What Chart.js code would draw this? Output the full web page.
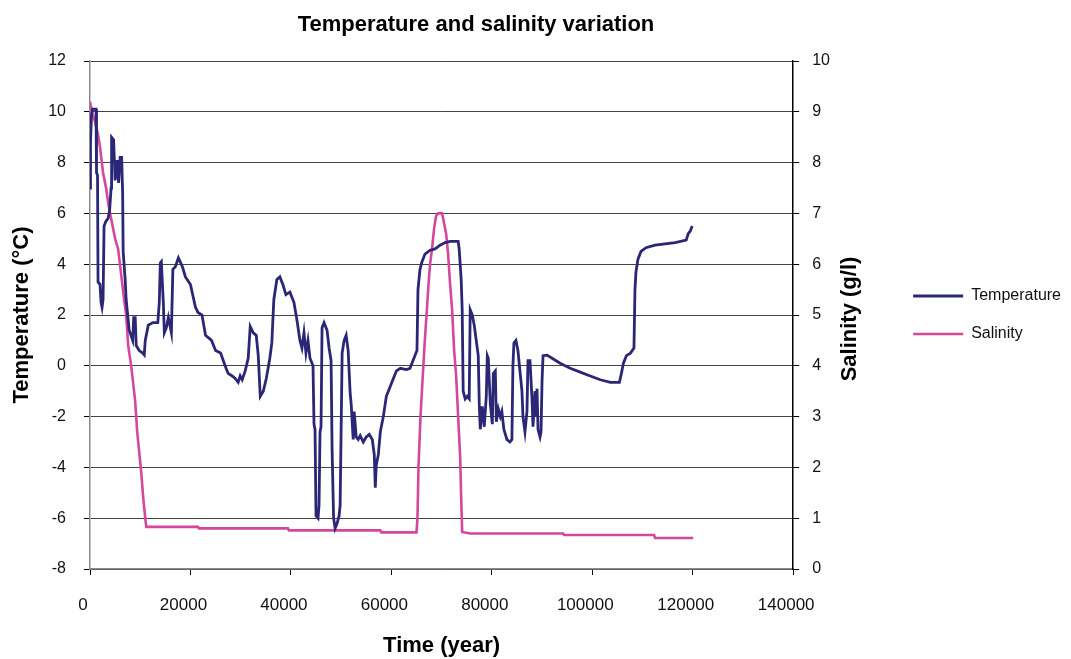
<!DOCTYPE html>
<html>
<head>
<meta charset="utf-8">
<script src="https://cdn.jsdelivr.net/npm/chart.js@4.4.1/dist/chart.umd.min.js"></script>
<style>
  body { margin: 0; background: #fff; }
</style>
</head>
<body>
<canvas id="tsChart" width="1071" height="659"></canvas>
<script>
const chartTitle = 'Temperature and salinity variation';
const xTitle = 'Time (year)';
const tempTitle = 'Temperature (°C)';
const salTitle = 'Salinity (g/l)';

// temperature trace (year, °C)
const tempYear = [
  0, 100, 300, 500, 1200, 1300, 1500, 1600, 2000, 2200, 2400, 2600, 2800, 3200, 3600, 3900,
  4200, 4300, 4700, 5000, 5400, 5700, 6000, 6300, 6500, 6600, 7000, 7200, 7500, 7800, 8500,
  8700, 9000, 9200, 9800, 10500, 10800, 11000, 11600, 12500, 13500, 13800, 14000, 14200, 14600,
  14800, 15200, 15600, 16200, 16500, 17000, 17600, 18400, 19000, 20000, 21000, 21500, 22300,
  23000, 24200, 25000, 26000, 26900, 27500, 28300, 28900, 29500, 29900, 30300, 30900, 31500,
  31900, 32500, 33100, 33500, 33900, 34500, 35100, 35800, 36200, 36600, 37200, 37800, 38400,
  39000, 39800, 40600, 41200, 41800, 42200, 42600, 43000, 43400, 43800, 44400, 44600, 44800,
  45000, 45400, 45600, 45800, 46000, 46200, 46600, 47200, 47600, 48000, 48200, 48500, 48800,
  49200, 49600, 49800, 50200, 50600, 51000, 51400, 51800, 52000, 52400, 52600, 53000, 53400,
  53800, 54400, 55000, 55600, 56200, 56600, 56800, 57000, 57400, 57800, 58400, 59000, 59600,
  60200, 61000, 61800, 63000, 63700, 64300, 64900, 65100, 65300, 65700, 66100, 66700, 67700,
  68700, 69700, 70700, 71700, 73300, 73500, 73900, 74100, 74300, 74700, 75100, 75500, 75700,
  76100, 76500, 76900, 77300, 77500, 77700, 78100, 78500, 78900, 79100, 79300, 79700, 80100,
  80300, 80700, 80900, 81300, 81700, 82000, 82400, 83000, 83600, 84000, 84200, 84400, 84800,
  85200, 85600, 86000, 86200, 86600, 87000, 87200, 87600, 88000, 88200, 88600, 88800, 89000,
  89200, 89600, 89800, 90000, 90200, 91000, 92000, 93600, 95600, 97600, 99600, 101600, 103600,
  105400, 105800, 106200, 106800, 107600, 108300, 108500, 108700, 109100, 109700, 110700,
  112500, 114500, 116500, 118700, 119100, 119500, 119900
];
const tempC = [
  7.0, 8.8, 9.9, 10.1, 10.1, 7.6, 7.5, 3.3, 3.2, 2.5, 2.3, 2.6, 5.5, 5.7, 5.8, 6.1,
  7.0, 9.0, 8.9, 7.3, 8.1, 7.2, 8.2, 8.2, 6.8, 4.5, 3.4, 2.6, 2.0, 1.4, 1.0,
  1.9, 1.9, 0.8, 0.6, 0.5, 0.43, 1.0, 1.6, 1.7, 1.7, 2.5, 4.05, 4.1, 2.5,
  1.3, 1.5, 1.9, 1.3, 3.8, 3.9, 4.25, 3.9, 3.5, 3.2, 2.3, 2.1, 2.0,
  1.2, 1.0, 0.6, 0.5, 0.0, -0.3, -0.4, -0.5, -0.65, -0.4, -0.55, -0.2, 0.3,
  1.55, 1.3, 1.2, 0.4, -1.2, -1.0, -0.5, 0.3, 0.9, 2.6, 3.4, 3.5, 3.2,
  2.8, 2.9, 2.5, 1.8, 1.0, 0.7, 1.3, 0.5, 1.0, 0.3, 0.0, -2.3, -2.5,
  -5.9, -6.0, -5.5, -2.6, -2.4, 1.5, 1.7, 1.4, 0.7, 0.2, -3.3, -6.0, -6.4,
  -6.2, -5.9, -5.5, 0.5, 1.0, 1.2, 0.6, -1.1, -1.5, -2.9, -1.8, -2.8, -2.9,
  -2.75, -3.0, -2.8, -2.7, -2.9, -3.5, -4.8, -3.9, -3.5, -2.6, -2.0, -1.2, -0.9,
  -0.6, -0.2, -0.1, -0.15, -0.1, 0.2, 0.5, 0.6, 3.0, 3.8, 4.1, 4.4, 4.55,
  4.6, 4.75, 4.85, 4.9, 4.9, 4.6, 3.4, 2.2, -1.0, -1.3, -1.2, -1.3, 2.2,
  2.0, 1.6, 1.0, 0.4, -1.5, -2.5, -1.6, -2.4, -1.2, 0.4, 0.3, -1.5, -2.3,
  -0.3, -0.2, -2.2, -1.7, -2.0, -1.8, -2.5, -2.9, -3.0, -2.9, 0.0, 0.9, 1.0,
  0.6, -0.2, -1.0, -2.0, -2.6, -1.8, 0.2, 0.2, -1.3, -2.4, -1.0, -2.0, -0.9,
  -2.5, -2.8, -2.6, -0.6, 0.4, 0.42, 0.3, 0.1, -0.1, -0.25, -0.4, -0.55, -0.65,
  -0.65, -0.3, 0.1, 0.4, 0.5, 0.7, 3.0, 3.7, 4.2, 4.5, 4.65,
  4.75, 4.8, 4.85, 4.95, 5.2, 5.3, 5.5
];

// salinity trace (year, g/l)
const salYear = [
  0, 400, 1000, 1600, 2000, 2600, 3200, 3800, 4400, 5000, 5600, 6200, 6800, 7200, 7600,
  8200, 8600, 9000, 9400, 9800, 10200, 10600, 11000, 11200, 21500, 21700, 39400, 39600,
  57800, 58000, 65000, 65200, 65400, 65800, 66200, 66600, 67000, 67400, 67700, 68100, 68500,
  68900, 69300, 70100, 70500, 70900, 71300, 71700, 72100, 72500, 72900, 73300, 73700, 73900,
  74100, 75700, 94200, 94400, 112300, 112500, 120100
];
const salGL = [
  9.2, 9.0, 8.8, 8.55, 8.3, 7.8, 7.5, 7.1, 6.8, 6.5, 6.3, 5.8, 5.3, 5.0, 4.4,
  4.0, 3.65, 3.3, 2.7, 2.3, 1.9, 1.4, 1.0, 0.83, 0.83, 0.8, 0.8, 0.76,
  0.76, 0.72, 0.72, 1.0, 2.0, 3.0, 3.7, 4.4, 5.0, 5.6, 6.0, 6.3, 6.7,
  6.95, 7.0, 7.0, 6.8, 6.6, 6.2, 5.6, 5.1, 4.3, 3.8, 3.0, 2.2, 1.4,
  0.73, 0.7, 0.7, 0.67, 0.67, 0.61, 0.61
];

const font = 'Liberation Sans';

const tempPoints = tempYear.map((x, i) => ({ x: x, y: tempC[i] }));
const salPoints = salYear.map((x, i) => ({ x: x, y: salGL[i] }));

// chart title and the right axis title (read bottom-to-top, like the left one)
const extraText = {
  id: 'extraText',
  afterDraw(chart) {
    const ctx = chart.ctx;
    const area = chart.chartArea;
    const r = chart.scales.ySal;
    ctx.save();
    ctx.fillStyle = '#000';
    ctx.textAlign = 'center';
    ctx.textBaseline = 'middle';
    ctx.font = 'bold 22px "' + font + '"';
    ctx.fillText(chartTitle, 476, 25);
    ctx.translate(r.left + 57, (area.top + area.bottom) / 2 + 4);
    ctx.rotate(-Math.PI / 2);
    ctx.font = 'bold 22px "' + font + '"';
    ctx.fillText(salTitle, 0, 0);
    ctx.restore();
  }
};

const config = {
  type: 'line',
  data: {
    datasets: [{
      label: 'Temperature',
      data: tempPoints,
      yAxisID: 'yTemp',
      borderColor: '#2b2675',
      backgroundColor: '#2b2675',
      borderWidth: 2.8,
      pointRadius: 0,
      tension: 0
    }, {
      label: 'Salinity',
      data: salPoints,
      yAxisID: 'ySal',
      borderColor: '#d5479c',
      backgroundColor: '#d5479c',
      borderWidth: 2.6,
      pointRadius: 0,
      tension: 0
    }]
  },
  options: {
    responsive: false,
    animation: false,
    layout: { padding: { top: 61, left: 0, right: 0, bottom: 0 } },
    plugins: {
      title: { display: false },
      tooltip: { enabled: false },
      legend: {
        position: 'right',
        fullSize: false,
        maxWidth: 180,
        labels: {
          usePointStyle: true,
          pointStyle: 'line',
          pointStyleWidth: 50,
          padding: 22,
          color: '#111',
          font: { family: font, size: 16 }
        }
      }
    },
    scales: {
      x: {
        type: 'linear',
        min: 0,
        max: 140000,
        afterFit: (s) => { s.height = 90; },
        ticks: {
          stepSize: 20000,
          padding: 20,
          labelOffset: -7,
          color: '#111',
          font: { family: font, size: 17 },
          callback: (v) => String(v)
        },
        grid: { drawOnChartArea: false, tickLength: 6, tickColor: '#000' },
        border: { color: '#8a8a8a', width: 1.5 },
        title: {
          display: true,
          text: xTitle,
          color: '#000',
          font: { family: font, size: 22, weight: 'bold' },
          padding: { top: 0, bottom: 0 }
        }
      },
      yTemp: {
        type: 'linear',
        position: 'left',
        min: -8,
        max: 12,
        afterFit: (s) => { s.width = 90; },
        ticks: {
          stepSize: 2,
          padding: 18,
          color: '#111',
          font: { family: font, size: 16 }
        },
        grid: { color: '#444', lineWidth: 1, tickLength: 6, tickColor: '#000' },
        border: { color: '#8a8a8a', width: 1.5 },
        title: {
          display: true,
          text: tempTitle,
          color: '#000',
          font: { family: font, size: 22, weight: 'bold' },
          padding: { top: 9, bottom: 0 }
        }
      },
      ySal: {
        type: 'linear',
        position: 'right',
        min: 0,
        max: 10,
        afterFit: (s) => { s.width = 98; },
        ticks: {
          stepSize: 1,
          padding: 13,
          color: '#111',
          font: { family: font, size: 16 }
        },
        grid: { drawOnChartArea: false, tickLength: 6, tickColor: '#000' },
        border: { color: '#000', width: 1.5 }
      }
    }
  },
  plugins: [extraText]
};

const tsChart = new Chart(document.getElementById('tsChart'), config);
</script>
</body>
</html>
